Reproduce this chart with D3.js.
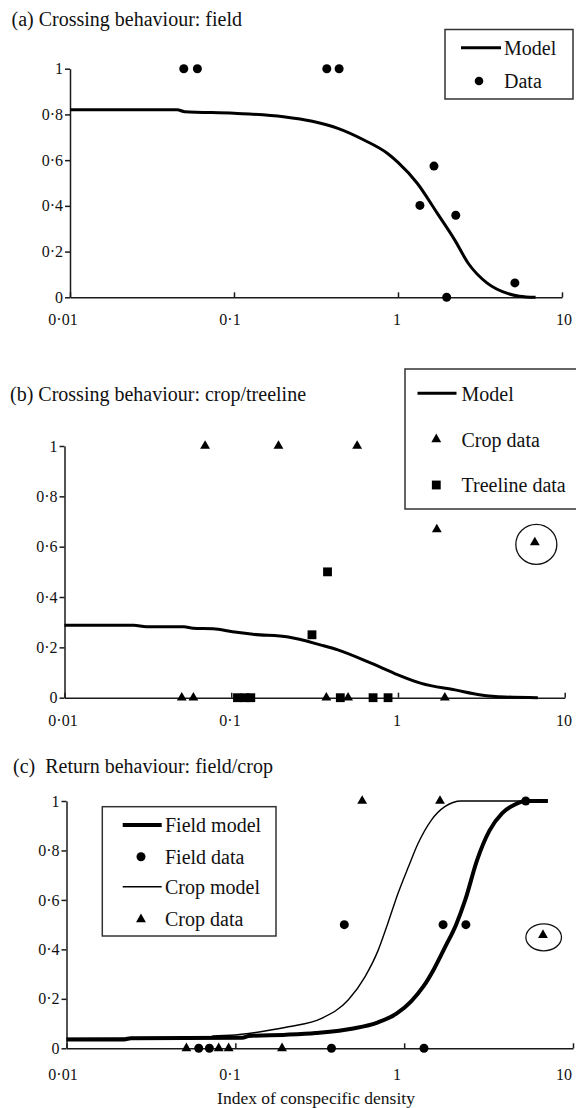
<!DOCTYPE html>
<html><head><meta charset="utf-8">
<script src="https://cdn.jsdelivr.net/npm/d3@7"></script>
<style>
body{margin:0;background:#fff}
svg{display:block}
</style>
</head><body>
<svg id="chart" width="576" height="1108" font-family="Liberation Serif, Times New Roman, serif"></svg>
<script>
// ---------- shared ticks / labels ----------
const xTicks = [0.01, 0.1, 1, 10];
const xTickLabels = ["0\u00B701", "0\u00B71", "1", "10"];
const yTicks = [0, 0.2, 0.4, 0.6, 0.8, 1];
const yTickLabels = ["0", "0\u00B72", "0\u00B74", "0\u00B76", "0\u00B78", "1"];
const panelTitles = ["(a) Crossing behaviour: field", "(b) Crossing behaviour: crop/treeline", "(c)\u00A0\u00A0Return behaviour: field/crop"];
const xAxisTitle = "Index of conspecific density";

// ---------- (a) crossing: field ----------
const aModelX = [0.01, 0.02, 0.045, 0.05, 0.1, 0.2, 0.3, 0.43, 0.62, 0.86, 1.0, 1.31, 1.73, 2.22, 2.68, 3.5, 4.65, 5.5, 6.9];
const aModelY = [0.82, 0.82, 0.82, 0.812, 0.805, 0.79, 0.77, 0.739, 0.688, 0.63, 0.59, 0.499, 0.369, 0.25, 0.149, 0.062, 0.017, 0.005, 0];
const aDataX = [0.0494, 0.0598, 0.368, 0.4375, 1.36, 1.657, 2.25, 5.16, 1.98];
const aDataY = [1, 1, 1, 1, 0.402, 0.574, 0.359, 0.063, 0];

// ---------- (b) crossing: crop/treeline ----------
const bModelX = [0.01, 0.026, 0.031, 0.052, 0.059, 0.078, 0.102, 0.135, 0.22, 0.346, 0.436, 0.69, 0.95, 1.38, 2.2, 3.15, 4.4, 6.9];
const bModelY = [0.288, 0.288, 0.282, 0.282, 0.276, 0.274, 0.262, 0.252, 0.241, 0.209, 0.19, 0.137, 0.097, 0.057, 0.031, 0.011, 0.003, 0];
const bCropX = [0.0697, 0.192, 0.569, 1.71, 6.62, 0.0505, 0.0593, 0.372, 0.502, 1.91];
const bCropY = [1, 1, 1, 0.669, 0.617, 0, 0, 0, 0, 0];
const bTreeX = [0.378, 0.305, 0.109, 0.121, 0.131, 0.451, 0.709, 0.872];
const bTreeY = [0.5, 0.25, 0, 0, 0, 0, 0, 0];
const bCircledX = [6.62];
const bCircledY = [0.617];

// ---------- (c) return: field/crop ----------
const cFieldModelX = [0.01, 0.022, 0.024, 0.11, 0.12, 0.2, 0.3, 0.5, 0.7, 0.9, 1.1, 1.3, 1.5, 1.75, 2.03, 2.3, 2.7, 3.2, 3.8, 4.5, 5.3, 7.1];
const cFieldModelY = [0.036, 0.036, 0.041, 0.043, 0.05, 0.055, 0.062, 0.08, 0.105, 0.14, 0.19, 0.25, 0.32, 0.41, 0.5, 0.6, 0.76, 0.88, 0.95, 0.985, 1.0, 1.0];
const cCropModelX = [0.01, 0.07, 0.074, 0.1, 0.12, 0.15, 0.206, 0.324, 0.466, 0.587, 0.702, 0.8, 0.92, 1.06, 1.21, 1.45, 1.74, 2.18, 7.1];
const cCropModelY = [0.04, 0.043, 0.05, 0.054, 0.06, 0.07, 0.087, 0.121, 0.195, 0.29, 0.397, 0.505, 0.627, 0.734, 0.829, 0.923, 0.977, 1.0, 1.0];
const cFieldDataX = [0.442, 1.70, 2.32, 5.25, 0.0607, 0.0702, 0.371, 1.31];
const cFieldDataY = [0.5, 0.5, 0.5, 1, 0, 0, 0, 0];
const cCropDataX = [0.564, 1.63, 6.64, 0.0513, 0.0797, 0.0913, 0.189];
const cCropDataY = [1, 1, 0.458, 0, 0, 0, 0];
const cCircledX = [6.64];
const cCircledY = [0.458];

// ---------- drawing ----------
const FONT = "Liberation Serif, Times New Roman, serif";
const svg = d3.select("#chart");
const zip = (xs, ys) => xs.map((v, i) => [v, ys[i]]);
const labelScale = d3.scaleLog().domain([0.01, 10]).range([63, 564]);
const AX = "#1a1a1a";

function txt(sel, x, y, size, s) {
  return sel.append("text").attr("x", x).attr("y", y).attr("font-size", size)
    .attr("font-family", FONT).attr("fill", "#111").text(s);
}

function panel(p) {
  const x = d3.scaleLog().domain([0.01, 10]).range([p.left, p.right]);
  const y = d3.scaleLinear().domain([0, 1]).range([p.bottom, p.top]);
  const g = svg.append("g");

  txt(g, p.titleX, p.titleY, 20, p.title);

  const xa = g.append("g").attr("transform", `translate(0,${p.bottom})`)
    .call(d3.axisBottom(x).tickValues(xTicks).tickSize(-5).tickSizeOuter(0).tickFormat(() => ""));
  xa.attr("color", AX);
  xa.selectAll("path,line").attr("stroke-width", 1.5);

  const ya = g.append("g").attr("transform", `translate(${p.left},0)`)
    .call(d3.axisLeft(y).tickValues(yTicks).tickSize(5).tickSizeOuter(0).tickPadding(2)
      .tickFormat((d, i) => yTickLabels[i]));
  ya.attr("color", AX).attr("font-family", FONT).attr("font-size", 16);
  ya.selectAll("path,line").attr("stroke-width", 1.5);
  ya.selectAll("text").attr("font-size", 16).attr("font-family", FONT).attr("fill", "#111");

  g.selectAll(".xl").data(xTicks).join("text")
    .attr("x", d => labelScale(d)).attr("y", p.labelY)
    .attr("text-anchor", "middle").attr("font-size", 16).attr("font-family", FONT).attr("fill", "#111")
    .text((d, i) => xTickLabels[i]);

  return { g, x, y };
}

const lineGen = (x, y) => d3.line().x(d => x(d[0])).y(d => y(d[1])).curve(d3.curveMonotoneX);
const tri = d3.symbol(d3.symbolTriangle, 42);
const sq = d3.symbol(d3.symbolSquare, 78);

// Panel a
{
  const { g, x, y } = panel({ left: 70, right: 562, top: 68.7, bottom: 297.3, labelY: 324.5, titleX: 11.5, titleY: 26, title: panelTitles[0] });
  g.append("path").datum(zip(aModelX, aModelY)).attr("d", lineGen(x, y))
    .attr("fill", "none").attr("stroke", "#000").attr("stroke-width", 3);
  g.selectAll(".pt").data(zip(aDataX, aDataY)).join("circle")
    .attr("cx", d => x(d[0])).attr("cy", d => y(d[1])).attr("r", 4.5).attr("fill", "#000");
  const L = g.append("g");
  L.append("rect").attr("x", 445).attr("y", 29.5).attr("width", 128).attr("height", 69.5)
    .attr("fill", "#fff").attr("stroke", "#333").attr("stroke-width", 1.5);
  L.append("line").attr("x1", 461).attr("x2", 501).attr("y1", 47.7).attr("y2", 47.7)
    .attr("stroke", "#000").attr("stroke-width", 3);
  txt(L, 504, 54.5, 20, "Model");
  L.append("circle").attr("cx", 479).attr("cy", 81).attr("r", 4.3).attr("fill", "#000");
  txt(L, 504, 88, 20, "Data");
}

// Panel b
{
  const { g, x, y } = panel({ left: 64.5, right: 564.7, top: 446, bottom: 697.7, labelY: 725.5, titleX: 10, titleY: 400.5, title: panelTitles[1] });
  g.append("path").datum(zip(bModelX, bModelY)).attr("d", lineGen(x, y))
    .attr("fill", "none").attr("stroke", "#000").attr("stroke-width", 3);
  g.selectAll(".tr").data(zip(bCropX, bCropY)).join("path")
    .attr("transform", d => `translate(${x(d[0])},${y(d[1])})`).attr("d", tri).attr("fill", "#000");
  g.selectAll(".sq").data(zip(bTreeX, bTreeY)).join("path")
    .attr("transform", d => `translate(${x(d[0])},${y(d[1])})`).attr("d", sq).attr("fill", "#000");
  g.selectAll(".ring").data(zip(bCircledX, bCircledY)).join("ellipse")
    .attr("cx", d => x(d[0]) + 1.5).attr("cy", d => y(d[1]) + 2)
    .attr("rx", 20.5).attr("ry", 20).attr("fill", "none").attr("stroke", "#111").attr("stroke-width", 1.3);
  const L = g.append("g");
  L.append("rect").attr("x", 405).attr("y", 369).attr("width", 180).attr("height", 140)
    .attr("fill", "none").attr("stroke", "#333").attr("stroke-width", 1.5);
  L.append("line").attr("x1", 417.5).attr("x2", 456.5).attr("y1", 393.3).attr("y2", 393.3)
    .attr("stroke", "#000").attr("stroke-width", 3);
  txt(L, 461.5, 400.5, 20, "Model");
  L.append("path").attr("transform", "translate(436.3,439.3)").attr("d", tri).attr("fill", "#000");
  txt(L, 461.5, 446.5, 20, "Crop data");
  L.append("path").attr("transform", "translate(436.3,485)").attr("d", sq).attr("fill", "#000");
  txt(L, 461.5, 492, 20, "Treeline data");
}

// Panel c
{
  const { g, x, y } = panel({ left: 66.5, right: 573, top: 801, bottom: 1048.3, labelY: 1080, titleX: 13, titleY: 773.3, title: panelTitles[2] });
  g.append("path").datum(zip(cFieldModelX, cFieldModelY)).attr("d", lineGen(x, y))
    .attr("fill", "none").attr("stroke", "#000").attr("stroke-width", 4);
  g.append("path").datum(zip(cCropModelX, cCropModelY)).attr("d", lineGen(x, y))
    .attr("fill", "none").attr("stroke", "#000").attr("stroke-width", 1.4);
  g.selectAll(".pt").data(zip(cFieldDataX, cFieldDataY)).join("circle")
    .attr("cx", d => x(d[0])).attr("cy", d => y(d[1])).attr("r", 4.5).attr("fill", "#000");
  g.selectAll(".tr").data(zip(cCropDataX, cCropDataY)).join("path")
    .attr("transform", d => `translate(${x(d[0])},${y(d[1])})`).attr("d", tri).attr("fill", "#000");
  g.selectAll(".ring").data(zip(cCircledX, cCircledY)).join("ellipse")
    .attr("cx", d => x(d[0]) + 0.7).attr("cy", d => y(d[1]) + 2.3)
    .attr("rx", 17.8).attr("ry", 13.5).attr("fill", "none").attr("stroke", "#111").attr("stroke-width", 1.3);
  const L = g.append("g");
  L.append("rect").attr("x", 102.3).attr("y", 806.7).attr("width", 173.7).attr("height", 129.3)
    .attr("fill", "#fff").attr("stroke", "#333").attr("stroke-width", 1.5);
  L.append("line").attr("x1", 122.7).attr("x2", 161.7).attr("y1", 825).attr("y2", 825)
    .attr("stroke", "#000").attr("stroke-width", 4);
  txt(L, 165, 832, 20, "Field model");
  L.append("circle").attr("cx", 141).attr("cy", 856.7).attr("r", 4.5).attr("fill", "#000");
  txt(L, 165, 863.5, 20, "Field data");
  L.append("line").attr("x1", 122.7).attr("x2", 161.7).attr("y1", 886.7).attr("y2", 886.7)
    .attr("stroke", "#000").attr("stroke-width", 1.4);
  txt(L, 165, 893.5, 20, "Crop model");
  L.append("path").attr("transform", "translate(141,919.3)").attr("d", tri).attr("fill", "#000");
  txt(L, 165, 926, 20, "Crop data");

  txt(svg, 316, 1103.5, 17.5, xAxisTitle).attr("text-anchor", "middle");
}
</script>
</body></html>
